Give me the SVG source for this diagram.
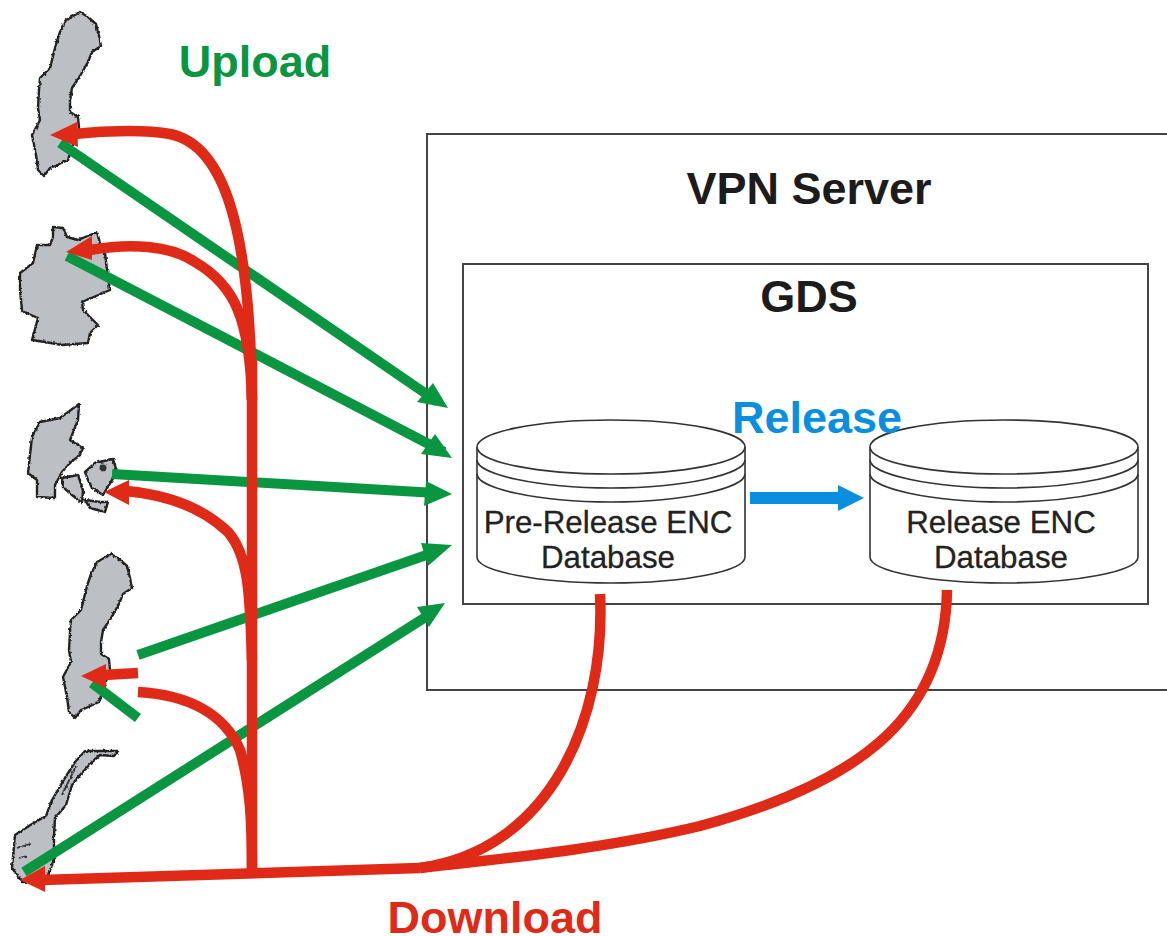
<svg xmlns="http://www.w3.org/2000/svg" width="1167" height="936" viewBox="0 0 1167 936">
<style>
text{font-family:"Liberation Sans",Arial,sans-serif;text-anchor:middle}
.t{font-size:45px;font-weight:bold;fill:#1c1c1c}
.db{font-size:31.3px;fill:#222;stroke:#222;stroke-width:.3}
.box{fill:#fff;stroke:#444;stroke-width:2}
.cyl{fill:#fff;stroke:#333;stroke-width:1.6}
.ring{fill:none;stroke:#333;stroke-width:1.6}
.land{fill:#bcc0c4;stroke:#222;stroke-width:2.4;stroke-linejoin:round}
.g{fill:none;stroke:#0a9640;stroke-width:10}
.r{fill:none;stroke:#e02a18;stroke-width:10.5}
.gh{fill:#0a9640}.rh{fill:#e02a18}
</style>
<defs>
<filter id="rough" x="-10%" y="-10%" width="120%" height="120%"><feTurbulence type="fractalNoise" baseFrequency="0.35" numOctaves="2" seed="4"/><feDisplacementMap in="SourceGraphic" scale="3" xChannelSelector="R" yChannelSelector="G"/><feGaussianBlur stdDeviation="0.3"/></filter>
<path id="sweden" class="land" d="M80,12 L88,17 96,24 99,36 101,46 92,52 88,62 80,76 72,88 70,100 70,112 78,117 79,128 74,142 68,160 55,166 50,168 44,176 38,170 36,155 32,135 40,120 38,108 39,90 40,78 50,68 52,60 56,44 60,32 66,20Z"/>
<g id="cylinder">
<path class="cyl" d="M0,27 V137 C0,151 60,163 134,163 C208,163 268,151 268,137 V27"/>
<path class="ring" d="M0,40 C0,54 60,68 134,68 C208,68 268,54 268,40"/>
<path class="ring" d="M0,54 C0,68 60,82 134,82 C208,82 268,68 268,54"/>
<ellipse class="cyl" cx="134" cy="27" rx="134" ry="27"/>
</g>
</defs>
<rect width="1167" height="936" fill="#fff"/>
<g id="vpn-server"><rect class="box" x="427" y="134" width="760" height="556"/><text class="t" x="809" y="204">VPN Server</text></g>
<g id="gds"><rect class="box" x="463" y="264" width="685" height="340"/><text class="t" x="809" y="312">GDS</text></g>
<g id="pre-release-db"><use href="#cylinder" x="477" y="420"/><text class="db" x="608" y="533">Pre-Release ENC</text><text class="db" x="608" y="568">Database</text></g>
<g id="release-db"><use href="#cylinder" x="870" y="420"/><text class="db" x="1001" y="533">Release ENC</text><text class="db" x="1001" y="568">Database</text></g>
<g id="map-sweden" filter="url(#rough)"><use href="#sweden"/></g>
<g id="map-germany" filter="url(#rough)"><path class="land" d="M53,227 L63,228 67,237 78,240 97,232 100,243 105,253 107,270 110,290 96,296 82,302 83,310 98,325 90,333 88,343 75,344 62,345 45,342 32,340 38,318 24,312 22,310 20,290 20,273 33,263 37,245 50,245 53,237Z"/></g>
<g id="map-denmark" filter="url(#rough)"><path class="land" d="M79,404 L78,420 70,440 83,448 80,455 70,463 62,472 55,485 55,498 37,497 37,480 28,473 32,437 40,422 60,418Z"/><path class="land" d="M62,478 L78,475 83,490 82,503 72,495 63,487Z"/><path class="land" d="M85,472 L95,463 113,459 117,472 112,480 103,495 92,488 88,480Z"/><path class="land" d="M85,500 L100,502 108,502 105,512 90,508Z"/><circle cx="103" cy="468" r="3.5" fill="#333"/></g>
<g id="map-sweden-2" filter="url(#rough)"><use href="#sweden" x="31" y="542"/></g>
<g id="map-norway" filter="url(#rough)"><path class="land" d="M85,751 L118,751 114,756 100,755 92,762 80,775 72,785 66,805 55,818 54,835 54,860 46,880 22,882 12,868 15,835 32,824 46,816 52,800 65,778 75,762Z"/><path d="M17,848 L30,844 M19,858 L27,856 M76,766 L62,795" fill="none" stroke="#333" stroke-width="1.8"/></g>
<g id="connectors">
<path class="g" d="M60,143 L438,402"/>
<path class="g" d="M67,256 L444,452"/>
<path class="g" d="M112,474 L436,493"/>
<path class="g" d="M138,655 L438,551"/>
<path class="g" d="M92,683 L138,718"/>
<path class="g" d="M24,872 L432,613"/>
<path class="r" d="M600,594 C606,720 550,850 420,868"/>
<path class="r" d="M947,590 C945,710 870,780 700,826 C600,850 490,860 420,868"/>
<path class="r" d="M42,880 L420,868"/>
<path class="r" d="M252,878 V360"/>
<path class="r" d="M74,134 C110,130 150,130 170,134 C225,145 250,230 252,400"/>
<path class="r" d="M90,250 C130,243 170,245 195,262 C235,285 250,320 252,400"/>
<path class="r" d="M126,491 C170,495 205,510 228,532 C248,555 250,590 252,660"/>
<path class="r" d="M104,675 L138,673"/>
<path class="r" d="M138,692 C190,695 225,715 240,750 C250,785 252,820 252,870"/>
<polygon class="gh" points="448,408 417,402 433,383"/>
<polygon class="gh" points="452,458 421,454 435,434"/>
<polygon class="gh" points="452,494 424,506 426,481"/>
<polygon class="gh" points="452,545 428,566 421,543"/>
<polygon class="gh" points="445,603 429,627 417,607"/>
<polygon class="rh" points="50,135 77,122 78,147"/>
<polygon class="rh" points="66,252 92,236 92,260"/>
<polygon class="rh" points="104,492 129,480 129,505"/>
<polygon class="rh" points="81,676 106,664 106,688"/>
<polygon class="rh" points="20,880 45,866 45,892"/>
<path d="M750,498 H840" fill="none" stroke="#0a8fe0" stroke-width="12"/>
<polygon fill="#0a8fe0" points="864,498 838,485 838,511"/>
</g>
<g id="labels">
<text x="255" y="77" font-size="45" font-weight="bold" fill="#0a9640">Upload</text>
<text x="817" y="433" font-size="45" font-weight="bold" fill="#0a8fe0">Release</text>
<text x="495" y="933" font-size="45" font-weight="bold" fill="#e02a18">Download</text>
</g>
</svg>
